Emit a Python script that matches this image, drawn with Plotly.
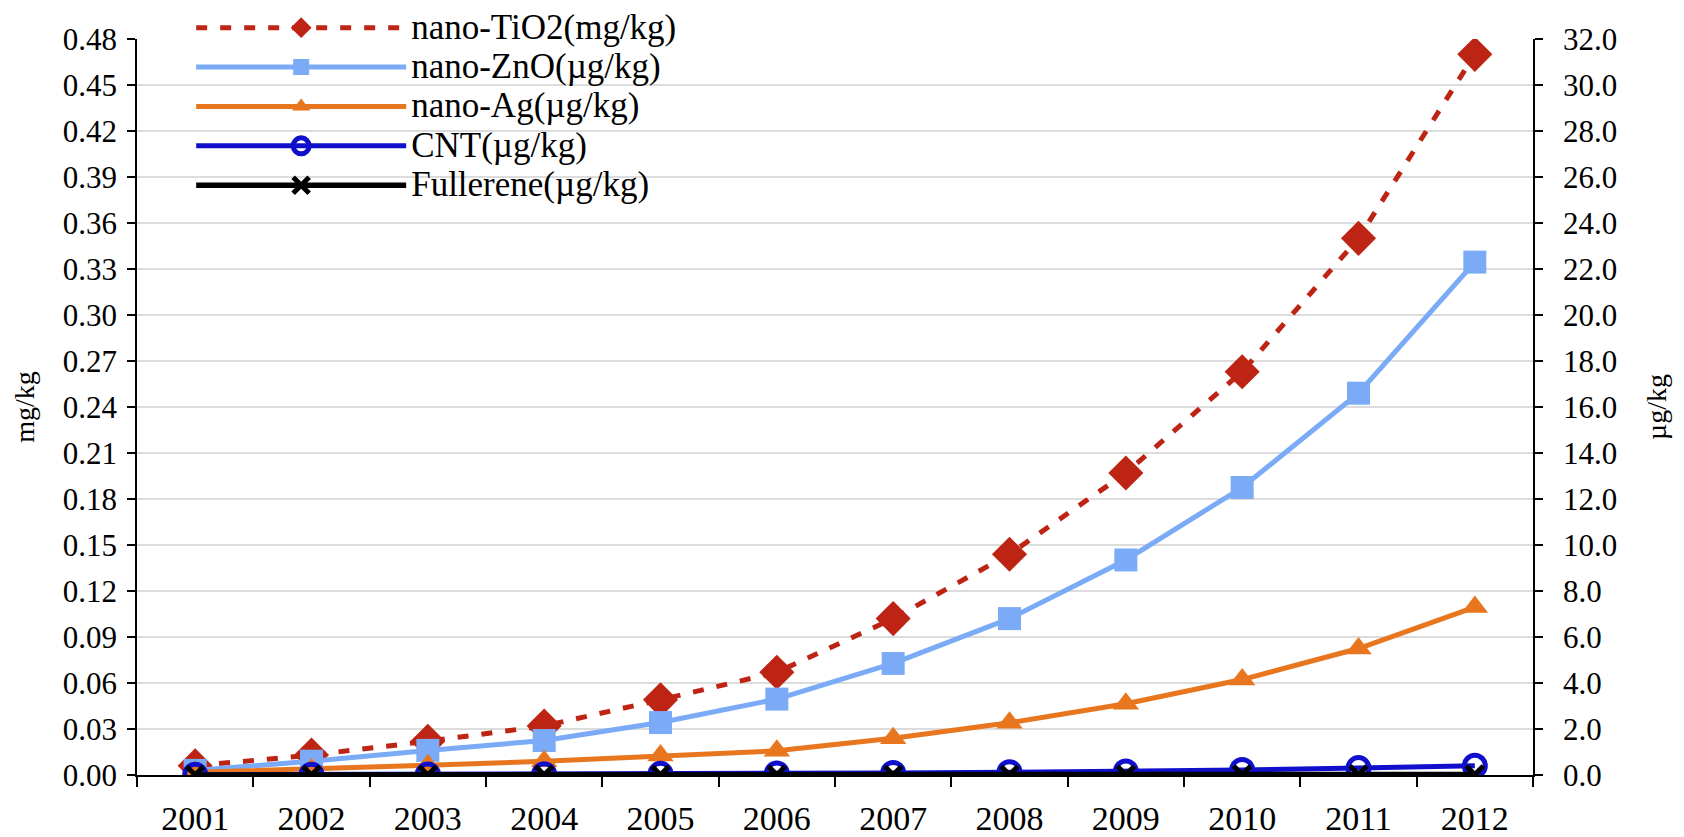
import plotly.graph_objects as go

years = ['2001', '2002', '2003', '2004', '2005', '2006', '2007', '2008', '2009', '2010', '2011', '2012']
tio2_mg = [0.006, 0.013, 0.022, 0.032, 0.049, 0.067, 0.102, 0.144, 0.197, 0.263, 0.350, 0.470]
zno_ug = [0.2, 0.6, 1.07, 1.5, 2.28, 3.3, 4.85, 6.8, 9.35, 12.5, 16.6, 22.3]
ag_ug = [0.12, 0.25, 0.42, 0.6, 0.85, 1.05, 1.6, 2.27, 3.1, 4.15, 5.5, 7.3]
cnt_ug = [0.01, 0.015, 0.02, 0.03, 0.05, 0.07, 0.09, 0.12, 0.15, 0.22, 0.3, 0.4]
fullerene_ug = [0.002, 0.003, 0.004, 0.005, 0.006, 0.008, 0.01, 0.012, 0.015, 0.018, 0.02, 0.025]

names = ['nano-TiO2(mg/kg)', 'nano-ZnO(µg/kg)', 'nano-Ag(µg/kg)', 'CNT(µg/kg)', 'Fullerene(µg/kg)']

FONT = 'Liberation Serif, Times New Roman, serif'


def big(t):
    return '<span style="font-size:35px">' + t + '</span>'


fig = go.Figure()
fig.add_trace(go.Scatter(
    x=years, y=tio2_mg, name=big(names[0]), yaxis='y', mode='lines+markers',
    line=dict(color='#BE2413', width=5, dash='11px,13px'),
    marker=dict(symbol='diamond', size=27, color='#BE2413')))
fig.add_trace(go.Scatter(
    x=years, y=zno_ug, name=big(names[1]), yaxis='y2', mode='lines+markers',
    line=dict(color='#7BABF7', width=5),
    marker=dict(symbol='square', size=23, color='#7BABF7')))
fig.add_trace(go.Scatter(
    x=years, y=ag_ug, name=big(names[2]), yaxis='y2', mode='lines+markers',
    line=dict(color='#E8761E', width=5),
    marker=dict(symbol='triangle-up', size=23, color='#E8761E')))
fig.add_trace(go.Scatter(
    x=years, y=cnt_ug, name=big(names[3]), yaxis='y2', mode='lines+markers',
    line=dict(color='#1010CC', width=5),
    marker=dict(symbol='circle-open', size=21, color='#1010CC', line=dict(width=5, color='#1010CC'))))
fig.add_trace(go.Scatter(
    x=years, y=fullerene_ug, name=big(names[4]), yaxis='y2', mode='lines+markers',
    line=dict(color='#000000', width=5.5),
    marker=dict(symbol='x-thin-open', size=17, color='#000000', line=dict(width=5, color='#000000'))))

fig.update_layout(
    width=1676, height=829,
    margin=dict(l=129, r=151, t=31, b=62, autoexpand=False),
    paper_bgcolor='white', plot_bgcolor='white',
    font=dict(family=FONT, color='black', size=30),
    showlegend=True,
    legend=dict(
        x=0.0388, y=1.049, xanchor='left', yanchor='top',
        bgcolor='rgba(0,0,0,0)', font=dict(family=FONT, size=28, color='black'),
        itemwidth=210, tracegroupgap=0, traceorder='normal'),
    shapes=[dict(type='rect', xref='paper', yref='paper', x0=0.0158, x1=0.4437, y0=0.655, y1=1.06,
                 fillcolor='white', line=dict(width=0), layer='between')],
    xaxis=dict(
        type='category', categoryorder='array', categoryarray=years,
        range=[-0.5, len(years) - 0.5],
        showline=True, linecolor='black', linewidth=1.5,
        ticks='outside', tickson='boundaries', ticklen=10, tickcolor='black', tickwidth=1.5,
        showgrid=False, tickfont=dict(size=34, family=FONT), zeroline=False,
        ticklabelstandoff=12),
    yaxis=dict(
        range=[0, 0.48], dtick=0.03, tickformat='.2f',
        showline=True, linecolor='black', linewidth=1.5,
        ticks='outside', ticklen=8, tickcolor='black', tickwidth=1.5,
        showgrid=True, gridcolor='#DCDCDC', gridwidth=2, zeroline=False,
        tickfont=dict(size=31, family=FONT), ticklabelstandoff=4,
        title=dict(text='mg/kg', font=dict(size=28, family=FONT), standoff=20)),
    yaxis2=dict(
        range=[0, 32], dtick=2, tickformat='.1f', overlaying='y', side='right',
        showline=True, linecolor='black', linewidth=1.5,
        ticks='outside', ticklen=8, tickcolor='black', tickwidth=1.5,
        showgrid=False, zeroline=False,
        tickfont=dict(size=31, family=FONT), ticklabelstandoff=14,
        title=dict(text='µg/kg', font=dict(size=28, family=FONT), standoff=30)),
)

fig.write_html('out.html')
